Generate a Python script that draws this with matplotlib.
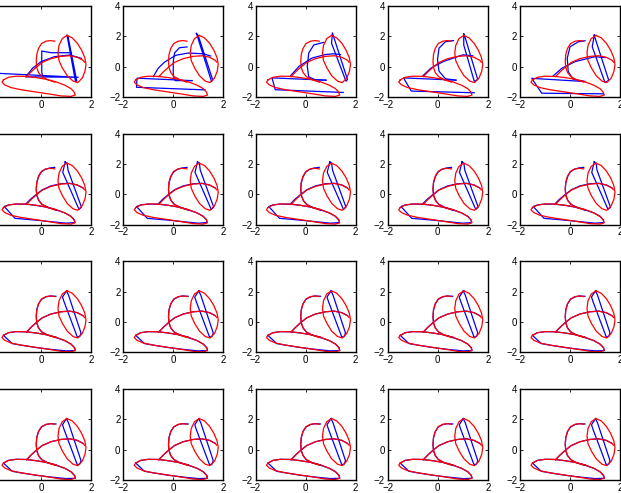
import matplotlib
matplotlib.use("Agg")
import matplotlib.pyplot as plt

# ---------------- data ----------------
x_ticks = [-2, 0, 2]
y_ticks = [-2, 0, 2, 4]
x_limits = (-2, 2)
y_limits = (-2, 4)

# Red target trajectory (same in every panel)
red_arc = [(0.55, 1.68), (0.38, 1.72), (0.2, 1.68), (0.02, 1.52), (-0.1, 1.2), (-0.17, 0.8),
           (-0.19, 0.35), (-0.17, -0.05), (-0.1, -0.38), (0.03, -0.65), (0.25, -0.85), (0.55, -1.02)]
red_bottom = [(-1.5, -0.87), (-1.3, -0.7), (-1.0, -0.63), (-0.6, -0.64), (-0.2, -0.72), (0.2, -0.83),
              (0.6, -1.0), (0.95, -1.22), (1.2, -1.45), (1.33, -1.68), (1.37, -1.87), (1.2, -1.96),
              (0.8, -1.93), (0.4, -1.82), (-0.2, -1.67), (-0.8, -1.52), (-1.2, -1.38), (-1.45, -1.2),
              (-1.56, -1.02), (-1.5, -0.87)]
red_medium = [(-0.58, -0.66), (-0.4, -0.35), (-0.2, -0.05), (0.05, 0.28), (0.4, 0.53), (0.8, 0.68),
              (1.15, 0.72), (1.45, 0.62), (1.68, 0.42), (1.74, 0.3)]
red_tall = [(1.04, 2.06), (1.25, 1.9), (1.45, 1.55), (1.62, 1.1), (1.75, 0.6), (1.8, 0.15),
            (1.76, -0.3), (1.65, -0.75), (1.47, -1.05), (1.28, -0.95), (1.05, -0.6), (0.86, -0.1),
            (0.72, 0.4), (0.68, 0.9), (0.72, 1.4), (0.85, 1.85), (1.04, 2.06)]

# Blue reproductions, first row (each panel differs)
blue_p1 = [
    [(-2.2, -0.4), (1.49, -0.7), (-0.6, -0.67)],
    [(-0.61, -0.66), (-0.34, -0.11), (0.0, 0.33), (0.54, 0.66), (1.15, 0.77), (1.62, 0.55)],
    [(0.05, -0.55), (0.03, -0.33), (0.03, 1.03), (0.41, 0.92), (1.22, 0.92)],
    [(1.04, 2.08), (1.38, -0.98), (1.43, -0.95), (1.08, 2.0)],
]
blue_p2 = [
    [(0.55, 1.3), (0.25, 1.25), (0.05, 0.9), (0.0, 0.3), (0.0, -0.6), (0.08, -0.92), (0.75, -0.92)],
    [(-0.8, -0.66), (-0.6, -0.1), (-0.35, 0.3), (0.1, 0.75), (0.6, 0.9), (1.2, 0.85), (1.5, 0.7)],
    [(0.75, -0.92), (-1.45, -0.76), (-1.47, -1.36), (1.27, -1.53)],
    [(0.93, 2.19), (1.53, -0.98), (1.58, -0.88), (1.0, 2.05), (0.93, 2.19)],
]
blue_p3 = [
    [(0.72, 1.6), (0.33, 1.43), (0.13, 0.9), (0.07, 0.02), (0.13, -0.67), (0.4, -0.87), (0.82, -0.89)],
    [(-0.59, -0.59), (-0.26, 0.02), (0.26, 0.57), (0.8, 0.8), (1.12, 0.85), (1.4, 0.8)],
    [(0.82, -0.89), (-1.34, -0.74), (-1.21, -1.52), (1.51, -1.7)],
    [(1.08, 2.2), (1.04, 1.55), (1.62, -0.96), (1.68, -0.85), (1.12, 2.0), (1.08, 2.2)],
]
blue_p4 = [
    [(0.63, 1.72), (0.31, 1.65), (0.05, 1.22), (-0.01, 0.46), (0.05, -0.3), (0.31, -0.8), (0.73, -0.89)],
    [(-0.59, -0.59), (-0.27, -0.09), (0.24, 0.35), (1.01, 0.78), (1.4, 0.72)],
    [(0.73, -0.89), (-1.37, -0.74), (-1.06, -1.61), (1.46, -1.72)],
    [(1.04, 2.15), (1.04, 1.43), (1.46, -0.96), (1.6, -0.85), (1.1, 1.9), (1.04, 2.15)],
]
blue_p5 = [
    [(0.6, 1.71), (0.33, 1.64), (0.0, 1.31), (-0.11, 0.55), (-0.07, -0.33), (0.13, -0.83), (0.6, -0.98)],
    [(-0.67, -0.61), (-0.33, -0.11), (0.2, 0.33), (1.0, 0.66), (1.4, 0.6)],
    [(0.6, -0.98), (-1.53, -0.77), (-1.13, -1.75), (1.33, -1.79)],
    [(0.97, 2.08), (0.89, 1.31), (1.4, -1.05), (1.55, -0.9), (1.0, 1.9), (0.97, 2.08)],
]

# Blue, second row (nearly converged)
blue_mid = [
    [(0.55, 1.78), (0.35, 1.74), (0.15, 1.64), (0.0, 1.45), (-0.1, 1.15), (-0.17, 0.75), (-0.19, 0.3),
     (-0.16, -0.1), (-0.08, -0.42), (0.06, -0.68), (0.3, -0.86), (0.6, -1.02)],
    [(-0.62, -0.66), (-0.42, -0.32), (-0.2, -0.02), (0.05, 0.3), (0.4, 0.56), (0.8, 0.7),
     (1.15, 0.73), (1.45, 0.62), (1.68, 0.42)],
    [(0.6, -1.02), (0.95, -1.22), (1.2, -1.45), (1.33, -1.68), (1.35, -1.86), (1.0, -1.9), (0.4, -1.8),
     (-0.2, -1.7), (-1.04, -1.58), (-1.47, -0.8), (-1.3, -0.7), (-1.0, -0.64), (-0.6, -0.65),
     (-0.2, -0.72), (0.2, -0.84), (0.6, -1.02)],
    [(0.97, 2.15), (0.87, 1.45), (1.52, -0.99), (1.62, -0.85), (1.08, 1.6), (1.05, 2.0), (0.97, 2.15)],
]
# Blue, third and fourth rows (converged)
blue_late = [
    [(0.6, 1.7), (0.38, 1.72), (0.2, 1.66), (0.02, 1.5), (-0.1, 1.2), (-0.17, 0.8), (-0.19, 0.35),
     (-0.17, -0.05), (-0.1, -0.38), (0.03, -0.65), (0.25, -0.84), (0.6, -1.02)],
    [(-0.58, -0.66), (-0.4, -0.35), (-0.2, -0.05), (0.05, 0.28), (0.4, 0.53), (0.8, 0.68),
     (1.15, 0.72), (1.45, 0.62), (1.68, 0.42)],
    [(0.6, -1.02), (0.95, -1.22), (1.2, -1.45), (1.35, -1.7), (1.37, -1.88), (1.0, -1.9), (0.4, -1.8),
     (-0.2, -1.68), (-0.8, -1.52), (-1.15, -1.42), (-1.5, -0.88), (-1.3, -0.7), (-1.0, -0.63),
     (-0.6, -0.64), (-0.2, -0.72), (0.2, -0.83), (0.6, -1.0)],
    [(1.02, 2.05), (0.86, 1.65), (0.92, 1.35), (1.45, -0.98), (1.55, -0.95), (1.6, -0.72),
     (1.1, 1.78), (1.02, 2.05)],
]

blue_panels = [
    [blue_p1, blue_p2, blue_p3, blue_p4, blue_p5],
    [blue_mid] * 5,
    [blue_late] * 5,
    [blue_late] * 5,
]
red_segments = [red_arc, red_bottom, red_medium, red_tall]

# ---------------- drawing ----------------
W, H = 621, 493
fig = plt.figure(figsize=(W / 100, H / 100), dpi=100)
plt.rcParams['font.family'] = ['Liberation Sans', 'DejaVu Sans']

col_x0 = [41 + 132.25 * i for i in range(5)]   # pixel position of x=0
ax_w = 100
ax_h = 91
row_top = [6 + 127.7 * j for j in range(4)]

for r in range(4):
    for c in range(5):
        left = (col_x0[c] - ax_w / 2) / W
        bottom = 1 - (row_top[r] + ax_h) / H
        ax = fig.add_axes([left, bottom, ax_w / W, ax_h / H])
        for seg in blue_panels[r][c]:
            xs, ys = zip(*seg)
            ax.plot(xs, ys, color='#0000ff', lw=0.9, solid_joinstyle='round')
        for seg in red_segments:
            xs, ys = zip(*seg)
            ax.plot(xs, ys, color='#ff0000', lw=0.9, solid_joinstyle='round')
        ax.set_xlim(*x_limits)
        ax.set_ylim(*y_limits)
        ax.set_xticks(x_ticks)
        ax.set_yticks(y_ticks)
        ax.tick_params(direction='in', length=2.5, width=0.6, labelsize=7, pad=2,
                       top=True, right=True)
        for s in ax.spines.values():
            s.set_linewidth(1.0)
            s.set_color('black')

fig.savefig("out.png", dpi=100)
